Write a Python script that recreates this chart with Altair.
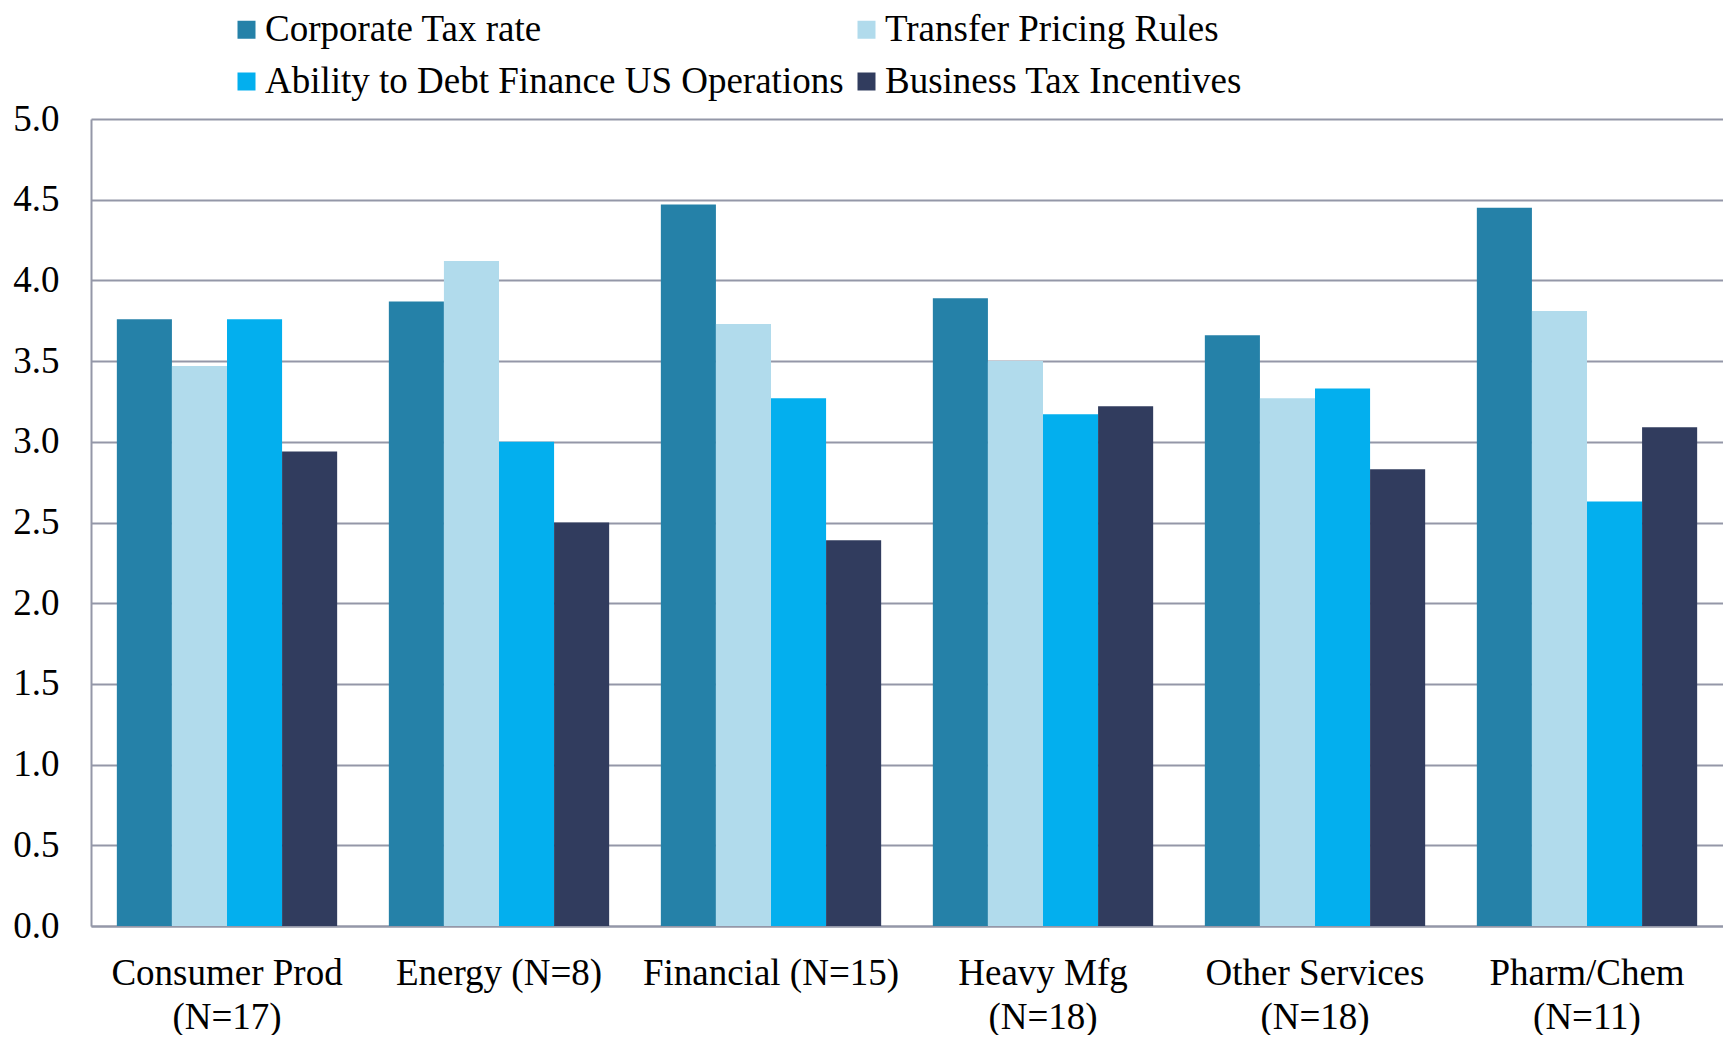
import altair as alt
import pandas as pd

categories = ["Consumer Prod|(N=17)", "Energy (N=8)", "Financial (N=15)",
              "Heavy Mfg|(N=18)", "Other Services|(N=18)", "Pharm/Chem|(N=11)"]
series = ["Corporate Tax rate", "Transfer Pricing Rules",
          "Ability to Debt Finance US Operations", "Business Tax Incentives"]
corporate = [3.76, 3.87, 4.47, 3.89, 3.66, 4.45]
transfer = [3.47, 4.12, 3.73, 3.50, 3.27, 3.81]
debt = [3.76, 3.00, 3.27, 3.17, 3.33, 2.63]
incentives = [2.94, 2.50, 2.39, 3.22, 2.83, 3.09]
colors = ["#2581A8", "#B1DBEC", "#03AFEE", "#313C5E"]

rows = []
for i, c in enumerate(categories):
    for s, vals in zip(series, [corporate, transfer, debt, incentives]):
        rows.append({"category": c, "series": s, "value": vals[i]})
df = pd.DataFrame(rows)

FONT = "Liberation Serif"

chart = alt.Chart(df).mark_bar().encode(
    x=alt.X("category:N", sort=categories, title=None,
            scale=alt.Scale(paddingInner=0.19, paddingOuter=0.095),
            axis=alt.Axis(labelAngle=0, labelExpr="split(datum.label, '|')",
                          labelFont=FONT, labelFontSize=37, labelColor="#000000",
                          labelPadding=29, labelLineHeight=44, labelLimit=0,
                          ticks=False, domainColor="#9497A8", domainWidth=2)),
    xOffset=alt.XOffset("series:N", sort=series, scale=alt.Scale(paddingInner=0, paddingOuter=0)),
    y=alt.Y("value:Q", title=None,
            scale=alt.Scale(domain=[0, 5], nice=False),
            axis=alt.Axis(values=[0, 0.5, 1, 1.5, 2, 2.5, 3, 3.5, 4, 4.5, 5],
                          format=".1f", labelFont=FONT, labelFontSize=37,
                          labelColor="#000000", labelPadding=32, ticks=False,
                          domainColor="#9497A8", domainWidth=2,
                          grid=True, gridColor="#9497A8", gridWidth=2)),
    color=alt.Color("series:N", sort=series, title=None,
                    scale=alt.Scale(domain=series, range=colors),
                    legend=alt.Legend(orient="none", legendX=137, legendY=-108,
                                      direction="horizontal",
                                      columns=2, columnPadding=4, rowPadding=14,
                                      padding=0,
                                      symbolType="square", symbolSize=324,
                                      symbolStrokeWidth=0, labelOffset=0,
                                      labelFont=FONT, labelFontSize=37,
                                      labelColor="#000000", labelLimit=1000)),
).properties(
    width=1632, height=807,
    autosize=alt.AutoSizeParams(type="none"),
    padding={"left": 83, "top": 111, "right": 0, "bottom": 109},
).configure_view(stroke=None).configure_axisY(zindex=0)

chart.save("out.html", embed_options={"renderer": "svg", "actions": False})
